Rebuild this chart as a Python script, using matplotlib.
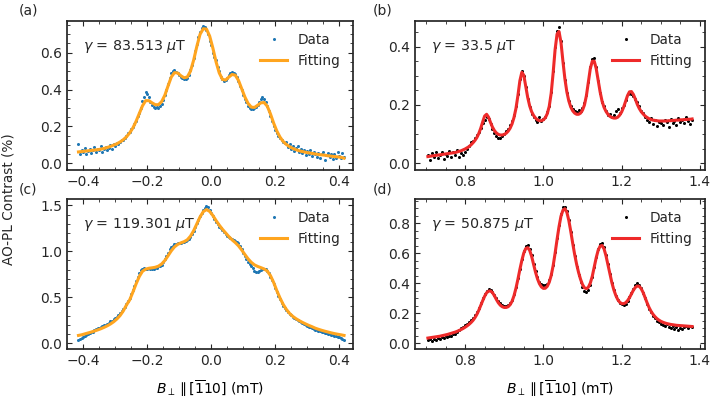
import numpy as np
import matplotlib
matplotlib.use('Agg')
import matplotlib.pyplot as plt
from matplotlib.ticker import AutoMinorLocator

# ---- data ----
# panels (a) and (c): field from -0.415 to 0.415 mT
data_a = [0.105, 0.048, 0.072, 0.060, 0.083, 0.052, 0.068, 0.079, 0.058, 0.074,
          0.086, 0.061, 0.080, 0.070, 0.092, 0.064, 0.078, 0.090, 0.072, 0.085,
          0.098, 0.080, 0.104, 0.095, 0.112, 0.105, 0.118, 0.127, 0.124, 0.140,
          0.150, 0.162, 0.168, 0.185, 0.198, 0.215, 0.232, 0.258, 0.275, 0.300,
          0.338, 0.362, 0.385, 0.378, 0.360, 0.335, 0.318, 0.306, 0.298, 0.304,
          0.300, 0.312, 0.322, 0.345, 0.372, 0.400, 0.432, 0.462, 0.490, 0.502,
          0.505, 0.498, 0.492, 0.480, 0.470, 0.462, 0.458, 0.455, 0.462, 0.478,
          0.505, 0.535, 0.572, 0.610, 0.648, 0.685, 0.712, 0.735, 0.745, 0.740,
          0.725, 0.700, 0.665, 0.640, 0.600, 0.575, 0.560, 0.525, 0.500, 0.470,
          0.455, 0.448, 0.452, 0.462, 0.478, 0.492, 0.498, 0.490, 0.482, 0.468,
          0.445, 0.422, 0.396, 0.372, 0.348, 0.330, 0.312, 0.300, 0.292, 0.295,
          0.298, 0.305, 0.318, 0.335, 0.348, 0.358, 0.350, 0.332, 0.312, 0.285,
          0.258, 0.232, 0.205, 0.182, 0.165, 0.150, 0.138, 0.128, 0.115, 0.108,
          0.118, 0.088, 0.105, 0.078, 0.095, 0.068, 0.085, 0.092, 0.060, 0.078,
          0.058, 0.075, 0.045, 0.068, 0.052, 0.072, 0.040, 0.062, 0.048, 0.035,
          0.055, 0.028, 0.050, 0.062, 0.020, 0.045, 0.058, 0.032, 0.048, 0.025,
          0.052, 0.030, 0.060, 0.042, 0.028, 0.055, 0.035]

fit_a = [0.062, 0.064, 0.066, 0.068, 0.070, 0.072, 0.074, 0.077, 0.081, 0.086,
         0.092, 0.099, 0.106, 0.116, 0.128, 0.144, 0.165, 0.192, 0.228, 0.270,
         0.312, 0.340, 0.340, 0.328, 0.318, 0.318, 0.335, 0.370, 0.420, 0.468,
         0.492, 0.490, 0.475, 0.464, 0.468, 0.500, 0.560, 0.635, 0.700, 0.730,
         0.728, 0.690, 0.625, 0.550, 0.490, 0.455, 0.452, 0.468, 0.482, 0.478,
         0.450, 0.405, 0.360, 0.325, 0.305, 0.303, 0.315, 0.328, 0.330, 0.310,
         0.268, 0.218, 0.175, 0.142, 0.118, 0.102, 0.090, 0.081, 0.074, 0.068,
         0.064, 0.060, 0.057, 0.054, 0.051, 0.048, 0.046, 0.044, 0.041, 0.039,
         0.037, 0.035, 0.033, 0.028]

data_c = [0.035, 0.045, 0.055, 0.068, 0.080, 0.090, 0.100, 0.108, 0.118, 0.125,
          0.138, 0.148, 0.160, 0.168, 0.178, 0.185, 0.195, 0.202, 0.212, 0.222,
          0.235, 0.245, 0.258, 0.272, 0.288, 0.305, 0.325, 0.345, 0.372, 0.398,
          0.430, 0.462, 0.495, 0.535, 0.580, 0.625, 0.672, 0.715, 0.760, 0.795,
          0.810, 0.820, 0.812, 0.805, 0.815, 0.808, 0.802, 0.810, 0.815, 0.822,
          0.835, 0.840, 0.855, 0.880, 0.912, 0.945, 0.985, 1.020, 1.045, 1.062,
          1.075, 1.082, 1.090, 1.095, 1.088, 1.098, 1.105, 1.110, 1.118, 1.135,
          1.155, 1.185, 1.220, 1.262, 1.305, 1.345, 1.385, 1.420, 1.452, 1.475,
          1.490, 1.478, 1.450, 1.418, 1.385, 1.352, 1.320, 1.295, 1.270, 1.250,
          1.228, 1.210, 1.190, 1.172, 1.158, 1.145, 1.135, 1.125, 1.112, 1.105,
          1.085, 1.060, 1.025, 0.985, 0.950, 0.918, 0.888, 0.862, 0.845, 0.820,
          0.790, 0.775, 0.772, 0.785, 0.795, 0.805, 0.812, 0.808, 0.790, 0.760,
          0.725, 0.688, 0.645, 0.598, 0.552, 0.512, 0.475, 0.440, 0.408, 0.382,
          0.360, 0.340, 0.322, 0.305, 0.288, 0.275, 0.260, 0.248, 0.238, 0.226,
          0.215, 0.205, 0.196, 0.188, 0.180, 0.170, 0.162, 0.152, 0.145, 0.138,
          0.132, 0.128, 0.120, 0.118, 0.110, 0.105, 0.098, 0.095, 0.088, 0.085,
          0.080, 0.075, 0.070, 0.062, 0.055, 0.045, 0.032]

fit_c = [0.083, 0.090, 0.100, 0.110, 0.120, 0.131, 0.143, 0.156, 0.171, 0.188,
         0.208, 0.232, 0.262, 0.300, 0.350, 0.415, 0.470, 0.555, 0.645, 0.725,
         0.782, 0.805, 0.815, 0.820, 0.826, 0.838, 0.862, 0.900, 0.952, 1.005,
         1.048, 1.075, 1.092, 1.105, 1.125, 1.165, 1.225, 1.300, 1.375, 1.432,
         1.455, 1.435, 1.390, 1.335, 1.285, 1.240, 1.200, 1.160, 1.125, 1.095,
         1.060, 1.015, 0.965, 0.918, 0.880, 0.852, 0.835, 0.822, 0.808, 0.785,
         0.735, 0.660, 0.570, 0.490, 0.420, 0.365, 0.322, 0.290, 0.265, 0.244,
         0.225, 0.208, 0.192, 0.178, 0.162, 0.150, 0.139, 0.129, 0.120, 0.111,
         0.103, 0.096, 0.090, 0.083]

# panels (b) and (d): field from 0.705 to 1.380 mT
data_b = [0.030, 0.012, 0.035, 0.022, 0.040, 0.018, 0.028, 0.038, 0.015, 0.033,
          0.025, 0.042, 0.020, 0.038, 0.030, 0.045, 0.022, 0.036, 0.028, 0.040,
          0.048, 0.060, 0.072, 0.078, 0.085, 0.098, 0.108, 0.122, 0.138, 0.150,
          0.158, 0.152, 0.135, 0.118, 0.105, 0.092, 0.085, 0.088, 0.094, 0.102,
          0.110, 0.118, 0.132, 0.145, 0.165, 0.195, 0.238, 0.288, 0.318, 0.300,
          0.262, 0.222, 0.192, 0.170, 0.160, 0.150, 0.140, 0.158, 0.145, 0.152,
          0.160, 0.175, 0.198, 0.245, 0.318, 0.398, 0.455, 0.468, 0.420, 0.345,
          0.285, 0.240, 0.215, 0.198, 0.185, 0.180, 0.175, 0.182, 0.178, 0.190,
          0.205, 0.235, 0.280, 0.330, 0.358, 0.362, 0.330, 0.282, 0.240, 0.210,
          0.195, 0.180, 0.165, 0.170, 0.158, 0.165, 0.178, 0.185, 0.172, 0.190,
          0.200, 0.218, 0.238, 0.242, 0.236, 0.230, 0.222, 0.210, 0.195, 0.180,
          0.172, 0.160, 0.148, 0.140, 0.155, 0.135, 0.150, 0.128, 0.142, 0.138,
          0.132, 0.148, 0.140, 0.125, 0.152, 0.138, 0.145, 0.130, 0.155, 0.142,
          0.150, 0.138, 0.158, 0.145, 0.135, 0.150]

fit_b = [0.023, 0.024, 0.025, 0.026, 0.027, 0.028, 0.029, 0.030, 0.031, 0.032,
         0.033, 0.034, 0.035, 0.036, 0.037, 0.039, 0.041, 0.043, 0.046, 0.049,
         0.053, 0.057, 0.063, 0.070, 0.078, 0.088, 0.102, 0.120, 0.142, 0.162,
         0.168, 0.158, 0.140, 0.124, 0.112, 0.104, 0.099, 0.097, 0.097, 0.099,
         0.103, 0.110, 0.120, 0.135, 0.157, 0.188, 0.232, 0.283, 0.312, 0.302,
         0.265, 0.226, 0.197, 0.177, 0.164, 0.155, 0.149, 0.146, 0.146, 0.149,
         0.156, 0.170, 0.195, 0.240, 0.310, 0.390, 0.443, 0.452, 0.415, 0.350,
         0.290, 0.245, 0.214, 0.193, 0.180, 0.172, 0.168, 0.168, 0.172, 0.182,
         0.200, 0.232, 0.278, 0.325, 0.350, 0.350, 0.325, 0.285, 0.245, 0.213,
         0.192, 0.178, 0.168, 0.161, 0.157, 0.155, 0.155, 0.158, 0.165, 0.176,
         0.192, 0.212, 0.232, 0.245, 0.246, 0.236, 0.220, 0.202, 0.188, 0.177,
         0.169, 0.162, 0.157, 0.153, 0.150, 0.148, 0.147, 0.146, 0.145, 0.145,
         0.145, 0.145, 0.145, 0.146, 0.146, 0.147, 0.147, 0.148, 0.148, 0.149,
         0.149, 0.150, 0.150, 0.151, 0.151, 0.152]

data_d = [0.018, 0.025, 0.015, 0.030, 0.022, 0.035, 0.028, 0.040, 0.032, 0.045,
          0.038, 0.050, 0.045, 0.058, 0.062, 0.075, 0.088, 0.098, 0.110, 0.118,
          0.128, 0.140, 0.152, 0.168, 0.185, 0.208, 0.235, 0.265, 0.298, 0.330,
          0.350, 0.358, 0.352, 0.338, 0.322, 0.300, 0.282, 0.265, 0.255, 0.250,
          0.248, 0.255, 0.268, 0.290, 0.325, 0.372, 0.432, 0.495, 0.560, 0.615,
          0.648, 0.655, 0.630, 0.585, 0.530, 0.480, 0.440, 0.410, 0.392, 0.385,
          0.388, 0.395, 0.418, 0.460, 0.522, 0.605, 0.698, 0.785, 0.860, 0.905,
          0.910, 0.880, 0.820, 0.740, 0.655, 0.578, 0.510, 0.455, 0.410, 0.372,
          0.350, 0.342, 0.355, 0.390, 0.440, 0.505, 0.572, 0.625, 0.660, 0.668,
          0.638, 0.590, 0.528, 0.462, 0.400, 0.352, 0.312, 0.285, 0.268, 0.258,
          0.255, 0.262, 0.278, 0.305, 0.335, 0.362, 0.385, 0.398, 0.385, 0.365,
          0.335, 0.298, 0.262, 0.230, 0.205, 0.182, 0.165, 0.150, 0.138, 0.128,
          0.120, 0.112, 0.125, 0.105, 0.098, 0.115, 0.092, 0.108, 0.088, 0.102,
          0.095, 0.108, 0.112, 0.100, 0.115, 0.105]

fit_d = [0.033, 0.035, 0.037, 0.039, 0.041, 0.043, 0.045, 0.048, 0.051, 0.054,
         0.057, 0.061, 0.065, 0.069, 0.073, 0.078, 0.084, 0.090, 0.097, 0.105,
         0.114, 0.124, 0.136, 0.150, 0.168, 0.190, 0.218, 0.250, 0.282, 0.312,
         0.335, 0.346, 0.347, 0.336, 0.315, 0.290, 0.268, 0.252, 0.242, 0.237,
         0.237, 0.242, 0.255, 0.278, 0.315, 0.365, 0.425, 0.490, 0.550, 0.600,
         0.630, 0.636, 0.618, 0.578, 0.525, 0.472, 0.428, 0.395, 0.374, 0.364,
         0.365, 0.378, 0.405, 0.450, 0.515, 0.598, 0.690, 0.775, 0.845, 0.885,
         0.895, 0.872, 0.818, 0.745, 0.665, 0.590, 0.525, 0.470, 0.425, 0.390,
         0.368, 0.362, 0.372, 0.400, 0.445, 0.505, 0.568, 0.618, 0.646, 0.650,
         0.628, 0.582, 0.522, 0.460, 0.403, 0.355, 0.318, 0.290, 0.272, 0.263,
         0.262, 0.268, 0.282, 0.302, 0.327, 0.352, 0.371, 0.380, 0.378, 0.362,
         0.336, 0.302, 0.268, 0.237, 0.212, 0.192, 0.176, 0.163, 0.153, 0.145,
         0.139, 0.134, 0.130, 0.127, 0.124, 0.122, 0.120, 0.118, 0.117, 0.116,
         0.115, 0.114, 0.113, 0.112, 0.111, 0.110]

gammas = ['83.513', '33.5', '119.301', '50.875']
panel_labels = ['(a)', '(b)', '(c)', '(d)']

# measurement grids
x_ac = np.linspace(-0.415, 0.415, len(data_a))
xf_ac = np.linspace(-0.415, 0.415, len(fit_a))
x_bd = np.linspace(0.705, 1.38, len(data_b))

plt.rcParams['font.family'] = 'DejaVu Sans'
plt.rcParams['font.size'] = 9.5
plt.rcParams['axes.linewidth'] = 1.25
plt.rcParams['axes.edgecolor'] = '0.15'
plt.rcParams['text.color'] = '0.15'
plt.rcParams['xtick.color'] = '0.15'
plt.rcParams['ytick.color'] = '0.15'

fig = plt.figure(figsize=(7.14, 3.98), dpi=100)
ax_a = fig.add_axes([0.0938, 0.5729, 0.4006, 0.3744])
ax_b = fig.add_axes([0.5812, 0.5729, 0.4062, 0.3744])
ax_c = fig.add_axes([0.0938, 0.1231, 0.4006, 0.3769])
ax_d = fig.add_axes([0.5812, 0.1231, 0.4062, 0.3769])
axes = [ax_a, ax_b, ax_c, ax_d]

panels = [
    (x_ac, data_a, xf_ac, fit_a, '#1f77b4', '#ffa51f'),
    (x_bd, data_b, x_bd, fit_b, 'black', '#ee2a2a'),
    (x_ac, data_c, xf_ac, fit_c, '#1f77b4', '#ffa51f'),
    (x_bd, data_d, x_bd, fit_d, 'black', '#ee2a2a'),
]

for ax, (xd, yd, xf, yf, dcol, fcol), g in zip(axes, panels, gammas):
    ax.plot(xd, yd, 'o', ms=2.2, mew=0, color=dcol, label='Data')
    ax.plot(xf, yf, '-', lw=2.2, color=fcol, label='Fitting')
    ax.text(0.055, 0.83, r'$\gamma$ = ' + g + r' $\mu$T', transform=ax.transAxes,
            ha='left', va='center', fontsize=10.3)
    ax.legend(loc='upper right', frameon=False, fontsize=9.8, markerscale=1.0)
    ax.xaxis.set_minor_locator(AutoMinorLocator())
    ax.yaxis.set_minor_locator(AutoMinorLocator())
    ax.tick_params(which='both', direction='in', top=True, right=True)
    ax.tick_params(labelsize=10)

ax_a.set_xlim(-0.451, 0.443)
ax_c.set_xlim(-0.451, 0.443)
ax_b.set_xlim(0.672, 1.413)
ax_d.set_xlim(0.672, 1.413)
ax_a.set_ylim(-0.036, 0.772)
ax_b.set_ylim(-0.023, 0.488)
ax_c.set_ylim(-0.065, 1.570)
ax_d.set_ylim(-0.04, 0.96)
ax_a.set_xticks([-0.4, -0.2, 0.0, 0.2, 0.4])
ax_b.set_xticks([0.8, 1.0, 1.2, 1.4])

xlab = r'$B_\perp \parallel [\overline{1}10]$ (mT)'
ax_c.set_xlabel(xlab, fontsize=10, labelpad=8)
ax_d.set_xlabel(xlab, fontsize=10, labelpad=8)
fig.text(0.012, 0.5, 'AO-PL Contrast (%)', rotation=90, ha='center', va='center',
         fontsize=9.8)

for lab, (px, py) in zip(panel_labels, [(28, 11), (383, 11), (28, 190), (383, 190)]):
    fig.text(px / 714, 1 - py / 398, lab, ha='center', va='center', fontsize=10)

fig.savefig('out.png', dpi=100)
